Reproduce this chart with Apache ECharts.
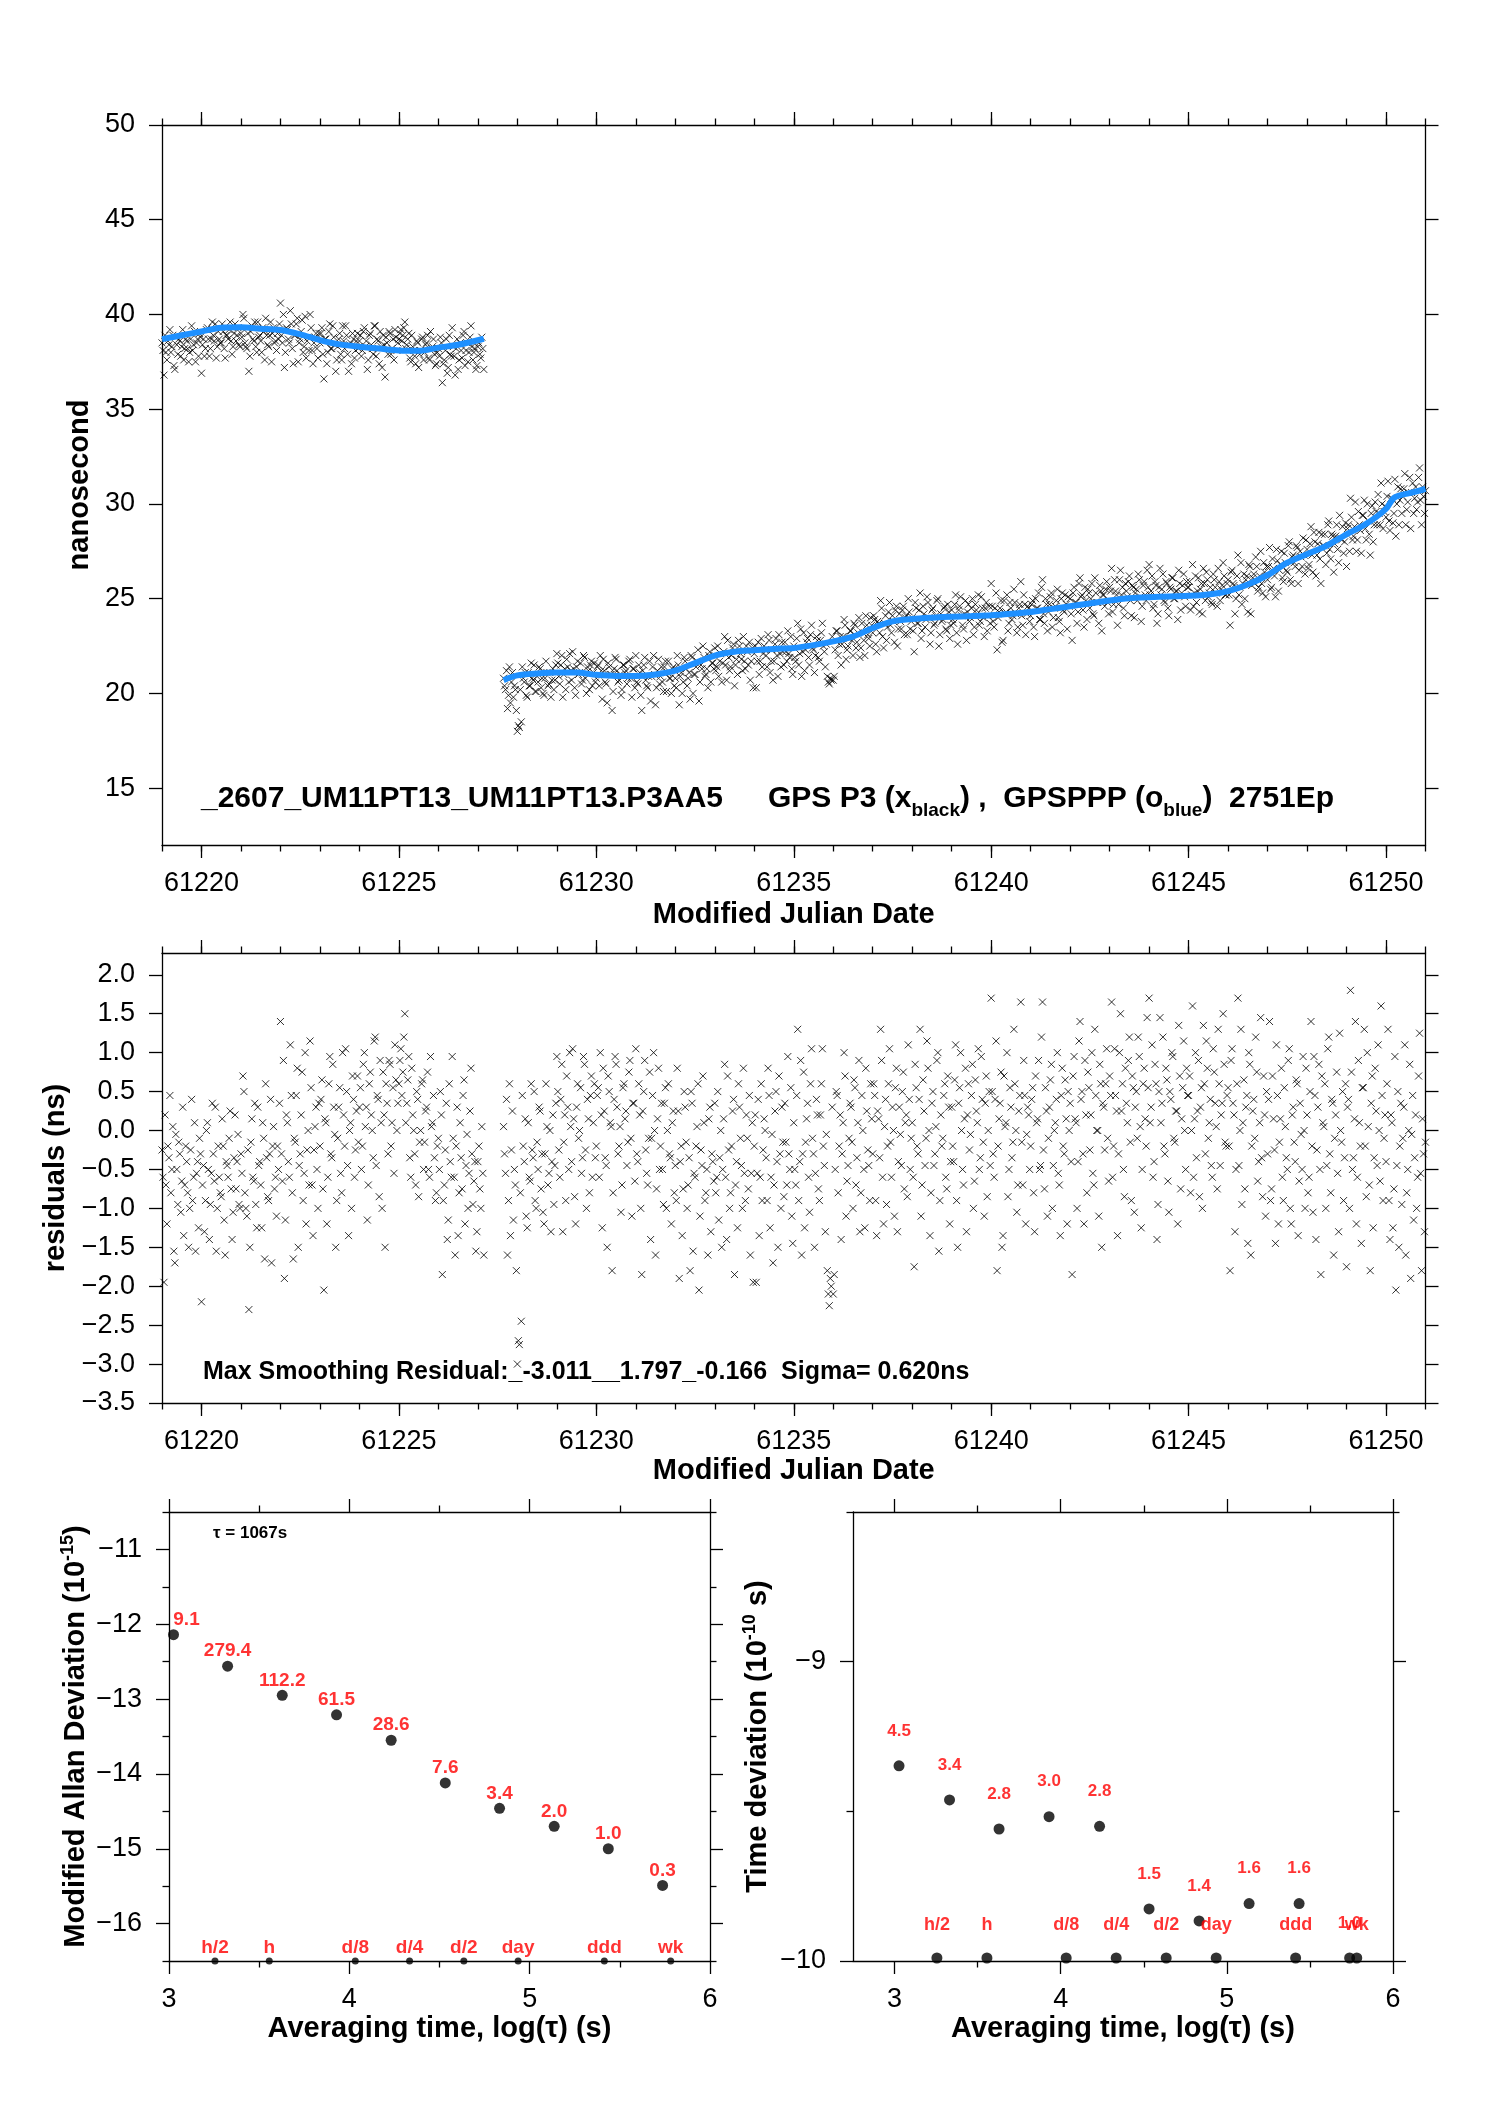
<!DOCTYPE html>
<html>
<head>
<meta charset="utf-8">
<title>GPS P3 / GPSPPP clock comparison</title>
<script src="https://cdn.jsdelivr.net/npm/echarts@6.0.0/dist/echarts.min.js"></script>
<style>
html, body { margin: 0; padding: 0; background: #fff; }
#main { width: 1488px; height: 2105px; }
</style>
</head>
<body>
<div id="main"></div>
<script>
// sample grid (MJD): two data segments, each read as two interleaved epoch sets, 0.05 d apart
var seg1Start = 61219.00, seg1bStart = 61219.025, seg2Start = 61227.65, seg2bStart = 61227.675, sampleStep = 0.05;

// GPS P3 values, black x (ns)
var p3Seg1 = [
  38.5,36.8,38.0,38.6,39.2,38.3,37.3,38.8,37.9,38.6,38.3,37.6,38.7,38.2,38.0,39.4,38.4,37.5,38.7,39.0,
  36.9,38.7,38.2,39.3,37.8,38.7,38.9,39.5,38.3,38.7,38.5,39.1,37.7,38.9,39.2,38.6,38.3,39.5,38.9,38.4,
  39.0,40.0,38.5,38.2,37.0,39.1,38.7,39.6,38.0,38.8,38.6,39.3,37.6,38.9,38.3,39.6,39.0,38.5,38.1,38.7,
  40.6,38.5,37.2,39.3,38.7,40.2,38.2,38.9,39.5,37.5,38.7,39.7,38.3,37.7,38.8,40.0,38.1,38.5,39.0,37.7,
  38.5,39.3,36.6,38.7,38.0,39.5,38.2,38.8,37.0,38.3,39.0,37.6,38.6,39.4,37.9,38.4,37.4,38.7,38.1,39.0,
  38.6,37.8,39.1,38.3,37.1,38.9,38.4,37.9,39.4,38.7,37.4,38.3,38.9,36.7,38.5,39.1,37.9,38.7,39.2,38.1,
  38.7,39.2,38.9,39.6,38.4,39.0,37.5,38.3,37.8,38.6,37.2,38.1,38.8,38.0,38.5,37.7,39.1,38.3,37.9,37.4,
  38.2,38.8,36.4,37.6,38.7,37.2,37.9,39.3,37.8,38.2,37.1,38.5,37.7,39.1,38.1,37.5,38.8,38.3,38.0,37.1,
  38.3,37.9,38.8,37.1
];
var p3Seg1b = [
  38.1,38.9,37.6,38.4,38.0,38.9,37.1,38.4,38.7,37.8,39.2,38.2,38.6,37.5,38.7,38.1,39.1,38.5,37.8,38.8,
  38.4,37.8,39.2,38.7,38.2,39.6,38.6,37.7,39.1,38.5,39.5,38.2,38.9,38.7,39.6,37.9,39.0,38.6,39.3,38.3,
  38.8,39.8,38.3,39.0,37.8,39.4,38.6,38.3,39.6,38.9,38.0,39.1,39.8,38.4,38.9,37.5,39.3,38.6,39.0,39.5,
  38.9,40.0,38.0,39.2,38.5,39.5,37.4,38.9,39.8,38.5,39.1,38.0,39.9,38.6,38.1,39.3,37.4,38.8,38.2,39.0,
  39.0,37.9,38.7,37.4,39.1,38.2,39.4,38.4,37.6,38.7,37.9,39.4,38.2,38.9,37.0,38.5,39.0,37.7,38.6,38.2,
  38.9,38.1,39.3,38.6,37.6,39.0,38.2,39.4,37.8,38.6,39.1,37.2,38.4,38.8,37.9,39.0,38.2,37.6,38.8,38.5,
  39.0,38.6,39.3,38.2,38.7,37.7,38.9,38.1,37.4,38.5,37.9,38.7,37.6,38.4,38.9,37.6,38.2,38.7,37.3,38.0,
  37.8,38.5,37.4,38.1,36.9,38.9,37.8,38.3,36.8,38.7,37.6,38.1,38.9,37.3,38.5,38.0,39.4,37.6,38.2,37.3,
  38.5,37.7,38.2
];
var p3Seg2 = [
  20.8,20.2,19.2,21.4,20.6,19.8,20.2,
  18.0,18.2,18.5,20.8,21.1,19.8,20.4,21.6,20.7,20.1,20.9,21.4,20.3,20.0,20.8,21.1,20.5,19.8,21.3,20.7,
  22.1,20.9,21.5,19.8,21.3,21.8,20.6,21.2,22.2,20.3,21.4,21.0,21.6,20.7,21.9,20.0,21.2,21.5,20.4,21.6,
  20.8,21.5,22.0,19.7,21.2,20.5,21.6,21.0,19.1,21.3,21.8,20.6,21.0,20.2,21.5,21.2,20.8,21.8,19.8,21.3,
  22.0,20.5,21.1,19.1,21.5,20.7,20.3,21.7,20.9,22.0,19.4,21.2,20.5,21.4,20.1,21.7,21.1,20.8,20.0,21.4,
  20.8,22.0,19.4,21.1,20.6,21.7,20.4,21.1,22.0,20.0,21.0,21.7,19.6,21.5,22.5,20.9,21.3,22.0,20.6,21.6,
  22.4,21.4,20.9,22.1,21.6,23.0,20.7,21.9,21.4,22.4,20.4,21.8,22.8,22.1,21.2,21.7,22.5,21.5,20.7,22.4,
  22.1,20.3,22.7,21.7,21.4,22.5,22.0,23.1,21.1,22.3,21.7,22.9,20.9,22.1,22.7,21.5,22.2,23.3,21.9,21.3,
  22.5,21.7,23.7,22.1,20.9,23.2,22.3,22.9,21.5,23.6,22.3,22.0,22.8,21.7,23.2,22.5,21.4,20.9,20.5,20.7,
  20.7,22.3,23.3,22.6,21.5,23.0,23.6,22.3,22.9,23.3,22.0,23.6,22.7,24.0,22.4,23.2,22.0,23.6,22.9,24.0,
  23.2,23.9,22.2,23.7,24.9,23.0,23.7,22.8,24.3,23.6,24.1,22.7,24.6,23.4,23.8,24.4,23.1,24.1,25.0,23.4,
  24.0,22.2,24.5,23.7,25.3,23.3,24.2,23.9,24.8,22.6,24.4,23.6,24.1,25.0,23.1,23.8,24.5,23.4,24.7,22.9,
  24.4,23.7,25.2,22.6,24.6,24.1,23.4,24.9,24.3,23.8,24.5,23.1,24.7,24.2,23.6,25.1,24.0,24.5,23.3,24.6,
  25.8,23.8,24.5,22.3,24.3,24.9,22.8,24.2,25.2,23.7,24.5,24.1,24.8,23.2,24.5,25.9,23.6,24.7,24.2,24.5,
  24.1,24.9,23.0,24.5,25.3,23.9,26.0,23.7,24.7,24.3,25.1,23.5,24.5,24.9,24.0,23.2,25.3,24.3,24.7,25.1,
  25.0,22.8,25.6,24.8,24.3,26.1,25.2,23.5,24.9,25.5,24.5,25.8,24.1,25.3,24.8,25.7,23.3,25.2,25.5,24.8,
  25.6,26.6,24.7,25.4,23.6,26.0,25.2,24.5,25.8,25.1,26.2,24.1,25.6,25.3,24.9,26.0,23.8,25.7,25.2,26.5,
  26.8,25.4,24.5,25.9,23.7,25.6,25.2,26.3,24.8,25.8,24.1,25.5,26.1,25.0,25.4,26.5,24.4,25.7,25.1,25.9,
  25.6,24.4,26.8,25.3,24.8,26.1,25.5,24.2,25.8,26.4,25.1,25.6,24.7,26.0,25.3,26.6,24.9,25.7,26.2,25.2,
  26.0,23.6,26.5,25.7,25.0,27.3,25.6,24.7,26.3,26.0,24.3,26.7,25.7,26.3,27.2,25.4,26.2,25.8,26.9,25.1,
  26.0,27.7,25.6,26.6,25.1,27.0,26.5,27.5,25.9,26.9,26.4,28.0,25.8,27.3,26.7,27.7,26.5,27.2,28.2,26.3,
  27.6,26.8,28.8,26.4,28.0,27.3,28.5,25.8,27.8,28.4,27.4,29.1,27.1,28.3,27.9,28.9,26.9,28.2,28.8,28.0,
  26.7,28.9,30.3,28.1,28.8,27.5,29.6,28.6,29.4,30.2,28.1,29.1,27.3,29.9,28.9,29.6,30.5,28.9,30.0,29.6,
  29.3,31.2,28.6,30.3,29.5,28.3,30.9,30.2,29.5,30.8,28.9,30.1,31.4,30.6,29.5,30.9,30.1,31.9,28.9,30.4,
  30.7
];
var p3Seg2b = [
  20.4,21.2,19.9,19.5,21.1,20.4,19.1,
  18.3,20.2,21.4,20.6,19.9,21.1,20.4,20.8,21.5,20.1,20.6,21.3,20.8,19.9,21.7,20.4,21.1,20.7,20.2,21.5,
  21.6,20.5,22.0,21.0,20.2,21.4,22.1,20.7,21.3,19.9,21.7,21.1,20.5,22.0,20.8,21.4,20.2,21.7,21.1,20.6,
  21.4,20.4,21.2,21.8,20.6,19.5,21.4,21.0,20.1,21.9,21.2,20.7,19.9,21.5,21.1,20.5,21.7,20.8,21.3,20.3,
  20.6,21.5,19.9,21.2,21.9,20.4,20.9,19.6,21.4,21.0,20.3,21.8,20.9,20.6,21.4,20.1,21.7,20.8,21.3,20.4,
  20.3,21.5,20.9,20.0,21.9,21.3,20.8,19.7,21.9,21.0,21.4,22.3,20.6,21.3,21.9,21.0,20.3,22.2,21.6,21.3,
  21.2,22.5,21.7,20.6,22.2,21.5,22.8,21.2,22.0,22.6,21.5,21.0,22.5,21.8,23.0,21.3,22.2,22.7,21.7,20.3,
  22.5,21.7,21.0,22.9,22.1,22.3,21.4,22.8,21.7,20.7,22.6,22.0,23.1,21.4,22.2,22.7,21.7,22.1,23.0,21.0,
  21.9,22.9,21.5,23.4,22.2,21.2,22.7,21.9,23.1,22.4,21.1,23.0,21.9,22.8,23.7,22.2,22.6,20.6,20.8,23.0,
  20.9,23.3,22.0,23.0,22.6,23.9,21.8,22.5,23.3,22.8,23.7,22.4,23.2,21.9,23.7,22.8,24.1,23.1,22.5,23.6,
  24.1,22.6,23.8,23.2,24.5,22.4,24.1,23.5,24.8,23.2,23.8,24.4,22.5,24.2,23.4,24.6,24.0,23.1,24.3,23.8,
  23.3,24.8,23.7,24.4,22.9,24.6,23.5,25.1,24.0,23.2,24.5,23.7,24.9,22.5,24.2,23.9,24.6,23.3,24.3,23.6,
  23.9,24.7,23.2,24.4,25.1,23.6,24.2,22.8,24.7,24.0,25.0,23.5,24.4,25.2,23.8,24.5,23.0,24.8,24.1,23.7,
  24.6,23.5,25.3,24.0,24.5,22.7,24.9,24.3,23.3,24.8,23.9,25.5,24.2,23.5,24.7,24.1,25.2,23.1,24.6,23.8,
  24.7,23.5,25.0,24.5,23.9,25.6,24.2,25.0,23.3,24.7,25.3,24.0,24.6,25.5,23.8,25.0,24.4,25.2,23.4,24.6,
  24.2,25.3,24.8,23.7,25.8,25.1,24.4,25.6,23.9,25.3,25.0,24.2,26.1,24.8,23.7,25.4,25.2,24.6,25.9,24.2,
  25.4,24.3,26.0,25.2,24.7,26.5,25.6,24.1,25.4,25.9,24.9,25.7,24.0,25.5,26.3,25.1,24.6,25.9,24.9,25.6,
  25.2,26.2,24.7,25.7,24.2,26.6,25.5,24.9,25.9,24.5,25.6,26.1,25.0,25.4,23.9,25.8,25.3,26.3,24.6,25.6,
  25.9,25.2,24.6,26.2,25.4,24.3,25.8,26.6,24.9,26.0,25.3,24.8,26.3,25.6,24.6,25.9,25.5,26.9,25.2,25.8,
  25.2,26.4,25.8,24.2,26.2,25.2,26.9,25.8,25.0,26.2,26.8,24.2,26.1,25.8,26.7,25.6,27.5,25.3,26.4,26.7,
  26.7,25.5,27.1,26.2,27.6,25.4,26.8,26.1,27.4,26.5,27.8,26.0,27.2,26.9,27.8,25.8,27.5,26.7,27.3,28.1,
  26.6,27.9,27.3,28.5,26.2,27.9,27.1,28.4,27.8,26.8,28.9,27.6,28.4,26.4,28.3,27.6,29.4,28.1,27.4,29.0,
  28.7,27.5,29.3,28.3,30.1,28.1,28.9,27.4,29.4,28.7,30.0,28.4,29.5,28.0,30.1,28.9,29.5,31.1,28.7,29.9,
  30.4,29.1,30.3,29.0,31.3,30.0,28.9,30.8,30.4,31.6,29.7,30.6,28.7,31.1,30.3,29.7,31.4,30.2,30.9,29.5
];

// GPSPPP curve, blue [MJD, ns]
var pppSeg1 = [
  [61219.0,38.70],[61219.5,38.90],[61220.0,39.10],[61220.5,39.30],[61221.0,39.32],[61221.5,39.25],
  [61222.0,39.18],[61222.5,38.95],[61223.0,38.65],[61223.5,38.42],[61224.0,38.30],[61224.5,38.20],
  [61225.0,38.10],[61225.5,38.08],[61226.0,38.25],[61226.5,38.40],[61227.15,38.72]
];
var pppSeg2 = [
  [61227.65,20.70],[61228.0,20.95],[61228.5,21.05],[61229.0,21.10],[61229.5,21.10],[61230.0,20.98],
  [61230.5,20.92],[61231.0,20.92],[61231.5,21.00],[61232.0,21.20],[61232.5,21.60],[61233.0,22.00],
  [61233.5,22.20],[61234.0,22.28],[61234.5,22.35],[61235.0,22.40],[61235.5,22.55],[61236.0,22.75],
  [61236.5,23.00],[61237.0,23.45],[61237.5,23.80],[61238.0,23.93],[61238.5,24.00],[61239.0,24.05],
  [61239.5,24.08],[61240.0,24.12],[61240.5,24.20],[61241.0,24.30],[61241.5,24.45],[61242.0,24.60],
  [61242.5,24.75],[61243.0,24.90],[61243.5,25.02],[61244.0,25.08],[61244.5,25.12],[61245.0,25.15],
  [61245.5,25.22],[61246.0,25.40],[61246.5,25.75],[61247.0,26.25],[61247.5,26.90],[61248.0,27.35],
  [61248.5,27.80],[61249.0,28.40],[61249.5,28.95],[61250.0,29.74],[61250.22,30.35],[61250.7,30.62],
  [61251.0,30.80]
];

// smoothing residuals (ns)
var resSeg1 = [
  -0.25,-1.95,-0.7,-0.2,0.45,-0.5,-1.55,-0.05,-0.95,-0.3,-0.65,-1.35,-0.2,-0.8,-1.0,0.4,-0.6,-1.55,-0.4,-0.1,
  -2.2,-0.45,-0.9,0.1,-1.4,-0.55,-0.3,0.3,-1.0,-0.6,-0.85,-0.2,-1.6,-0.45,-0.1,-0.75,-1.05,0.2,-0.4,-0.95,
  -0.3,0.7,-0.8,-1.1,-2.3,-0.15,-0.6,0.35,-1.25,-0.45,-0.7,0.1,-1.65,-0.35,-0.9,0.4,-0.2,-0.75,-1.1,-0.5,
  1.4,-0.65,-1.9,0.2,-0.4,1.1,-0.8,-0.1,0.45,-1.5,-0.3,0.75,-0.55,-1.2,0.0,1.15,-0.7,-0.25,0.3,-1.0,
  -0.2,0.65,-2.05,0.1,-0.6,0.95,-0.35,0.3,-1.5,-0.1,0.55,-0.8,0.2,1.05,-0.45,0.0,-1.0,0.4,-0.25,0.7,
  0.3,-0.5,0.85,0.05,-1.15,0.6,0.2,-0.35,1.2,0.45,-0.85,0.1,0.75,-1.5,0.35,0.9,-0.2,0.55,1.1,0.0,
  0.6,1.05,0.75,1.5,0.35,0.95,-0.6,0.2,-0.3,0.5,-0.85,0.0,0.65,-0.15,0.3,-0.5,0.95,0.1,-0.35,-0.8,
  -0.1,0.5,-1.85,-0.7,0.35,-1.15,-0.4,0.95,-0.6,-0.2,-1.35,0.1,-0.75,0.65,-0.45,-1.0,0.25,-0.3,-0.65,-1.55,
  -0.4,-0.75,0.05,-1.6
];
var resSeg1b = [
  -0.6,0.2,-1.2,-0.35,-0.8,0.05,-1.7,-0.5,-0.15,-1.05,0.3,-0.7,-0.4,-1.5,-0.25,-0.9,0.1,-0.55,-1.25,-0.3,
  -0.7,-1.3,0.0,-0.5,-0.95,0.35,-0.65,-1.55,-0.2,-0.8,0.15,-1.15,-0.4,-0.6,0.25,-1.4,-0.35,-0.75,-0.05,-1.0,
  -0.55,0.5,-1.0,-0.25,-1.5,0.15,-0.65,-0.95,0.3,-0.4,-1.25,-0.1,0.6,-0.85,-0.3,-1.7,0.05,-0.6,-0.2,0.35,
  -0.3,0.9,-1.15,0.1,-0.6,0.45,-1.65,-0.15,0.8,-0.45,0.2,-0.9,1.0,-0.25,-0.7,0.55,-1.35,0.05,-0.5,0.35,
  0.4,-0.75,0.15,-1.2,0.6,-0.3,0.85,-0.05,-0.9,0.3,-0.55,1.0,-0.2,0.5,-1.35,0.1,0.7,-0.6,0.25,-0.15,
  0.55,-0.2,1.0,0.3,-0.7,0.75,0.0,1.15,-0.45,0.4,0.9,-1.0,0.2,0.6,-0.3,0.85,0.1,-0.55,0.65,0.35,
  0.9,0.45,1.2,0.1,0.65,-0.35,0.8,0.0,-0.7,0.4,-0.15,0.6,-0.5,0.25,0.75,-0.6,0.05,0.45,-0.9,-0.2,
  -0.5,0.2,-0.9,-0.25,-1.4,0.6,-0.6,-0.1,-1.6,0.3,-0.8,-0.35,0.45,-1.2,-0.05,-0.55,0.8,-0.95,-0.4,-1.3,
  -0.2,-1.0,-0.55
];
var resSeg2 = [
  0.05,-0.55,-1.6,0.6,-0.25,-1.15,-0.7,
  -3.0,-2.75,-2.45,-0.2,0.15,-1.25,-0.6,0.6,-0.35,-0.9,-0.15,0.3,-0.75,-1.05,-0.3,0.05,-0.55,-1.3,0.2,-0.45,
  0.95,-0.25,0.4,-1.3,0.2,0.7,-0.5,0.05,1.05,-0.85,0.3,-0.1,0.55,-0.35,0.85,-1.0,0.15,0.45,-0.6,0.6,
  -0.2,0.55,1.0,-1.25,0.25,-0.45,0.7,0.1,-1.8,0.4,0.85,-0.3,0.05,-0.7,0.6,0.25,-0.15,0.9,-1.1,0.35,
  1.05,-0.4,0.2,-1.85,0.5,-0.25,-0.7,0.75,-0.1,1.0,-1.6,0.15,-0.5,0.35,-0.95,0.55,0.0,-0.3,-1.2,0.25,
  -0.45,0.8,-1.9,-0.2,-0.75,0.3,-1.0,-0.35,0.5,-1.55,-0.6,0.05,-2.05,-0.25,0.7,-0.9,-0.5,0.15,-1.3,-0.4,
  0.35,-0.6,-1.15,0.0,-0.5,0.85,-1.4,-0.25,-0.8,0.25,-1.85,-0.4,0.6,-0.1,-1.0,-0.55,0.2,-0.75,-1.6,0.1,
  -0.2,-1.95,0.4,-0.6,-0.9,0.15,-0.35,0.8,-1.25,-0.05,-0.7,0.5,-1.5,-0.3,0.3,-0.85,-0.15,0.95,-0.5,-1.1,
  0.1,-0.7,1.3,-0.4,-1.6,0.75,-0.15,0.35,-1.05,1.05,-0.3,-0.55,0.2,-0.9,0.6,-0.2,-1.3,-1.8,-2.25,-2.0,
  -2.1,-0.5,0.45,-0.2,-1.4,0.1,0.7,-0.65,-0.1,0.3,-1.0,0.55,-0.35,0.9,-0.8,0.0,-1.25,0.25,-0.45,0.6,
  -0.3,0.45,-1.35,0.15,1.3,-0.6,0.05,-0.95,0.6,-0.15,0.3,-1.1,0.8,-0.4,-0.05,0.5,-0.75,0.2,1.1,-0.5,
  0.1,-1.75,0.55,-0.3,1.3,-0.7,0.25,-0.1,0.8,-1.35,0.35,-0.45,0.05,1.0,-0.9,-0.2,0.45,-0.6,0.7,-1.2,
  0.3,-0.4,1.1,-1.5,0.55,0.0,-0.7,0.8,0.2,-0.25,0.45,-1.0,0.65,0.1,-0.5,0.95,-0.15,0.35,-0.85,0.5,
  1.7,-0.3,0.4,-1.8,0.15,0.75,-1.35,0.05,1.0,-0.5,0.3,-0.15,0.6,-1.05,0.25,1.65,-0.7,0.45,-0.05,0.2,
  -0.2,0.55,-1.3,0.1,0.9,-0.45,1.65,-0.75,0.25,-0.1,0.65,-1.0,0.0,0.4,-0.55,-1.35,0.8,-0.3,0.15,0.5,
  0.35,-1.85,0.95,0.1,-0.4,1.4,0.5,-1.2,0.2,0.75,-0.25,1.0,-0.7,0.45,0.0,0.85,-1.5,0.3,0.6,-0.1,
  0.7,1.65,-0.2,0.45,-1.35,1.0,0.25,-0.5,0.8,0.1,1.2,-0.9,0.55,0.3,-0.1,0.95,-1.25,0.6,0.15,1.45,
  1.7,0.3,-0.6,0.85,-1.4,0.5,0.1,1.2,-0.3,0.65,-1.05,0.4,0.95,-0.15,0.25,1.35,-0.75,0.55,0.0,0.8,
  0.45,-0.8,1.6,0.15,-0.35,0.9,0.3,-1.0,0.6,1.15,-0.1,0.4,-0.6,0.75,0.05,1.3,-0.45,0.35,0.85,-0.2,
  0.55,-1.8,1.05,0.2,-0.5,1.7,0.0,-0.95,0.65,0.3,-1.45,0.85,-0.2,0.4,1.2,-0.65,0.1,-0.35,0.7,-1.1,
  -0.3,1.4,-0.75,0.15,-1.45,0.45,-0.15,0.8,-0.9,0.05,-0.5,1.05,-1.2,0.3,-0.4,0.6,-0.65,-0.05,0.95,-1.0,
  0.2,-0.6,1.4,-1.05,0.45,-0.25,0.85,-1.85,0.1,0.6,-0.45,1.2,-0.8,0.35,-0.1,0.75,-1.3,0.0,0.5,-0.35,
  -1.75,0.4,1.8,-0.5,0.15,-1.2,0.9,-0.2,0.55,1.3,-0.85,0.05,-1.8,0.7,-0.35,0.25,1.1,-0.65,0.45,-0.1,
  -0.4,1.3,-1.4,0.1,-0.75,-2.05,0.5,-0.2,-0.95,0.3,-1.6,-0.5,0.85,-0.05,-1.15,0.2,-0.6,1.25,-1.8,-0.3,
  -0.15
];
var resSeg2b = [
  -0.3,0.4,-0.9,-1.35,0.25,-0.5,-1.8,
  -2.7,-0.8,0.45,-0.4,-1.1,0.1,-0.65,-0.25,0.5,-1.0,-0.5,0.25,-0.3,-1.2,0.6,-0.7,0.0,-0.4,-0.95,0.35,
  0.5,-0.6,0.85,-0.15,-0.9,0.3,1.0,-0.4,0.15,-1.2,0.6,0.0,-0.55,0.95,-0.25,0.4,-0.8,0.7,0.1,-0.35,
  0.45,-0.6,0.2,0.8,-0.35,-1.5,0.5,0.05,-0.8,0.95,0.3,-0.2,-1.05,0.55,0.15,-0.45,0.75,-0.1,0.35,-0.65,
  -0.3,0.6,-1.0,0.25,0.9,-0.55,-0.1,-1.4,0.45,0.0,-0.75,0.8,-0.2,-0.5,0.35,-1.0,0.6,-0.35,0.1,-0.8,
  -0.9,0.25,-0.4,-1.35,0.5,-0.15,-0.7,-1.8,0.35,-0.55,-0.2,0.6,-1.1,-0.45,0.1,-0.8,-1.6,0.3,-0.3,-0.65,
  -0.8,0.5,-0.35,-1.5,0.15,-0.6,0.7,-1.0,-0.2,0.4,-0.7,-1.25,0.3,-0.45,0.8,-0.9,-0.1,0.45,-0.55,-1.95,
  0.2,-0.55,-1.35,0.6,-0.25,0.0,-0.9,0.45,-0.6,-1.7,0.25,-0.4,0.7,-1.0,-0.15,0.35,-0.7,-0.3,0.55,-1.45,
  -0.5,0.45,-0.9,0.9,-0.3,-1.25,0.15,-0.6,0.6,-0.1,-1.5,0.4,-0.75,0.2,1.05,-0.45,-0.05,-2.1,-1.9,0.3,
  -1.85,0.5,-0.8,0.2,-0.3,1.0,-1.1,-0.45,0.35,-0.15,0.65,-0.7,0.1,-1.3,0.45,-0.5,0.8,-0.25,-0.9,0.15,
  0.6,-0.9,0.25,-0.35,0.9,-1.2,0.4,-0.2,1.05,-0.6,0.0,0.55,-1.3,0.3,-0.45,0.75,0.1,-0.85,0.4,-0.1,
  -0.6,0.85,-0.2,0.4,-1.1,0.65,-0.45,1.15,0.0,-0.8,0.5,-0.3,0.9,-1.55,0.2,-0.1,0.6,-0.75,0.3,-0.4,
  -0.2,0.65,-0.9,0.35,1.0,-0.5,0.15,-1.3,0.6,-0.05,0.85,-0.65,0.25,1.05,-0.35,0.4,-1.1,0.7,0.0,-0.45,
  0.5,-0.6,1.15,-0.2,0.35,-1.5,0.7,0.1,-0.85,0.55,-0.35,1.3,0.0,-0.7,0.45,-0.15,0.9,-1.2,0.3,-0.5,
  0.4,-0.8,0.7,0.15,-0.5,1.2,-0.25,0.55,-1.1,0.3,0.85,-0.45,0.1,1.0,-0.7,0.45,-0.2,0.65,-1.2,0.0,
  -0.4,0.7,0.15,-1.0,1.15,0.4,-0.3,0.9,-0.8,0.55,0.2,-0.55,1.3,0.0,-1.1,0.6,0.35,-0.25,1.05,-0.65,
  0.45,-0.6,1.05,0.25,-0.3,1.5,0.6,-0.85,0.35,0.9,-0.15,0.7,-1.05,0.5,1.2,0.05,-0.5,0.8,-0.2,0.55,
  0.1,1.1,-0.4,0.6,-0.95,1.45,0.35,-0.2,0.8,-0.65,0.5,1.0,-0.1,0.25,-1.2,0.7,0.15,1.15,-0.5,0.45,
  0.7,0.0,-0.6,1.0,0.25,-0.85,0.55,1.35,-0.3,0.8,0.1,-0.45,1.05,0.35,-0.75,0.6,0.2,1.5,-0.15,0.45,
  -0.2,0.9,0.35,-1.3,0.6,-0.45,1.3,0.1,-0.75,0.45,1.0,-1.6,0.25,-0.1,0.75,-0.4,1.45,-0.85,0.2,0.5,
  0.4,-0.9,0.7,-0.25,1.1,-1.2,0.15,-0.6,0.55,-0.35,0.9,-1.0,0.2,-0.15,0.65,-1.35,0.35,-0.5,0.0,0.8,
  -0.8,0.5,-0.2,0.95,-1.4,0.3,-0.5,0.7,0.05,-1.0,1.05,-0.3,0.4,-1.6,0.2,-0.55,1.25,-0.15,-0.9,0.6,
  0.3,-1.0,0.75,-0.35,1.4,-0.6,0.1,-1.45,0.55,-0.2,1.0,-0.7,0.35,-1.25,0.8,-0.45,0.0,1.6,-0.9,0.2,
  0.6,-0.9,0.2,-1.25,0.95,-0.45,-1.5,0.35,-0.1,1.1,-0.8,0.0,-1.9,0.45,-0.35,-1.0,0.7,-0.55,0.15,-1.3
];

// stability panels: log10(tau), log10 deviation, red annotations
var adevTau = [3.025, 3.325, 3.628, 3.929, 4.232, 4.532, 4.833, 5.136, 5.436, 5.737];
var adevVal = [-12.14, -12.56, -12.95, -13.21, -13.55, -14.12, -14.46, -14.70, -15.00, -15.49];
var adevTxt = ['9.1', '279.4', '112.2', '61.5', '28.6', '7.6', '3.4', '2.0', '1.0', '0.3'];
var tdevTau = [3.027, 3.331, 3.629, 3.930, 4.234, 4.532, 4.833, 5.134, 5.435, 5.739];
var tdevVal = [-9.348, -9.462, -9.559, -9.518, -9.550, -9.826, -9.866, -9.808, -9.808, -9.99];
var tdevTxt = ['4.5', '3.4', '2.8', '3.0', '2.8', '1.5', '1.4', '1.6', '1.6', '1.0'];
var markTau = [3.255, 3.556, 4.033, 4.334, 4.635, 4.936, 5.414, 5.782];
var markTxt = ['h/2', 'h', 'd/8', 'd/4', 'd/2', 'day', 'ddd', 'wk'];

// tick positions
var mjdMajor = [61220, 61225, 61230, 61235, 61240, 61245, 61250];
var mjdMinor = [61219,61220,61221,61222,61223,61224,61225,61226,61227,61228,61229,61230,61231,
  61232,61233,61234,61235,61236,61237,61238,61239,61240,61241,61242,61243,61244,61245,61246,
  61247,61248,61249,61250,61251];
var nsTicks = [15, 20, 25, 30, 35, 40, 45, 50];
var resTicks = [-3.5, -3, -2.5, -2, -1.5, -1, -0.5, 0, 0.5, 1, 1.5, 2];
var tauMajor = [3, 4, 5, 6];
var tauMinor = [3.5, 4.5, 5.5];
var adevMajor = [-16, -15, -14, -13, -12, -11];
var adevMinor = [-16.5, -15.5, -14.5, -13.5, -12.5, -11.5, -10.5];
var tdevMajor = [-10, -9];
var tdevMinor = [-9.5, -8.5];

var FONT = '"Liberation Sans", Arial, Helvetica, sans-serif';
var LINE = { color: '#000', width: 1.3 };
var XMARK = 'path://M0 0L10 10M10 0L0 10';

function tickText(v, dec) {
  var s = dec ? v.toFixed(dec) : String(Math.round(v));
  return s.charAt(0) === '-' ? '\u2212' + s.slice(1) : s;
}
function toPairs(start, values) {
  return values.map(function (v, i) { return [+(start + i * sampleStep).toFixed(3), v]; });
}

var xAxes = [], yAxes = [];
function nameStyle(rich) {
  var s = { fontSize: 29, fontWeight: 'bold', fontFamily: FONT, color: '#000' };
  if (rich) s.rich = rich;
  return s;
}
function addX(grid, min, max, major, minor, labels, name, nameGap, dec) {
  var first = xAxes.length;
  ['bottom', 'top'].forEach(function (pos) {
    var main = pos === 'bottom';
    xAxes.push({
      type: 'value', gridIndex: grid, position: pos, min: min, max: max,
      splitLine: { show: false },
      axisLine: { show: true, onZero: false, lineStyle: LINE },
      axisTick: { show: true, customValues: major, length: 13, lineStyle: LINE },
      axisLabel: main ? {
        show: true, customValues: labels, margin: 25, fontSize: 27, fontFamily: FONT, color: '#000',
        formatter: function (v) { return tickText(v, dec); }
      } : { show: false },
      name: main ? name : '', nameLocation: 'middle', nameGap: nameGap, nameTextStyle: nameStyle()
    });
    if (minor.length) {
      xAxes.push({
        type: 'value', gridIndex: grid, position: pos, min: min, max: max,
        splitLine: { show: false }, axisLine: { show: false, onZero: false },
        axisTick: { show: true, customValues: minor, length: 6.5, lineStyle: LINE },
        axisLabel: { show: false }
      });
    }
  });
  return first;
}
function addY(grid, min, max, major, minor, labels, name, nameGap, dec, rich) {
  var first = yAxes.length;
  ['left', 'right'].forEach(function (pos) {
    var main = pos === 'left';
    yAxes.push({
      type: 'value', gridIndex: grid, position: pos, min: min, max: max,
      splitLine: { show: false },
      axisLine: { show: true, onZero: false, lineStyle: LINE },
      axisTick: { show: true, customValues: major, length: 13, lineStyle: LINE },
      axisLabel: main ? {
        show: true, customValues: labels, margin: 27, fontSize: 27, fontFamily: FONT, color: '#000',
        formatter: function (v) { return tickText(v, dec); }
      } : { show: false },
      name: main ? name : '', nameLocation: 'middle', nameGap: nameGap, nameTextStyle: nameStyle(rich)
    });
    if (minor.length) {
      yAxes.push({
        type: 'value', gridIndex: grid, position: pos, min: min, max: max,
        splitLine: { show: false }, axisLine: { show: false, onZero: false },
        axisTick: { show: true, customValues: minor, length: 6.5, lineStyle: LINE },
        axisLabel: { show: false }
      });
    }
  });
  return first;
}

var supRich = { sup: { fontSize: 18, fontWeight: 'bold', fontFamily: FONT, color: '#000', verticalAlign: 'top', padding: [0, 0, 16, 0] } };

var xTop = addX(0, 61219, 61251, mjdMajor, mjdMinor, mjdMajor, 'Modified Julian Date', 55, 0);
var yTop = addY(0, 12, 50, nsTicks, [], nsTicks, 'nanosecond', 57, 0);
var xRes = addX(1, 61219, 61251, mjdMajor, mjdMinor, mjdMajor, 'Modified Julian Date', 53, 0);
var yRes = addY(1, -3.5, 2.28, resTicks, [], resTicks, 'residuals (ns)', 81, 1);
var xAdev = addX(2, 3, 6, tauMajor, tauMinor, tauMajor, 'Averaging time, log(\u03c4) (s)', 53, 0);
var yAdev = addY(2, -16.5, -10.5, adevMajor, adevMinor, adevMajor, 'Modified Allan Deviation (10{sup|-15})', 76, 0, supRich);
var xTdev = addX(3, 2.75, 6, tauMajor, tauMinor, tauMajor, 'Averaging time, log(\u03c4) (s)', 53, 0);
var yTdev = addY(3, -10, -8.5, tdevMajor, tdevMinor, tdevMajor, 'Time deviation (10{sup|-10} s)', 78, 0, supRich);

var xStyle = { color: 'rgba(0,0,0,0)', borderColor: '#000', borderWidth: 1 };
function xScatter(xi, yi, data) {
  return { type: 'scatter', xAxisIndex: xi, yAxisIndex: yi, data: data, symbol: XMARK, symbolSize: 7,
    itemStyle: xStyle, silent: true, z: 2 };
}
function blueLine(data) {
  return { type: 'line', xAxisIndex: xTop, yAxisIndex: yTop, data: data, smooth: 0.3, showSymbol: false,
    lineStyle: { color: '#1e90ff', width: 6 }, silent: true, z: 3 };
}
function redLabel(size, dist) {
  return { show: true, position: 'top', distance: dist, formatter: '{b}', color: '#ff0000',
    fontSize: size, fontWeight: 'bold', fontFamily: FONT };
}

var adevData = adevTau.map(function (t, i) {
  var d = { name: adevTxt[i], value: [t, adevVal[i]] };
  if (i === 0) d.label = { offset: [13, 0] };
  return d;
});
var tdevData = tdevTau.map(function (t, i) { return { name: tdevTxt[i], value: [t, tdevVal[i]] }; });
var adevMarks = markTau.map(function (t, i) { return { name: markTxt[i], value: [t, -16.5] }; });
var tdevMarks = markTau.map(function (t, i) { return { name: markTxt[i], value: [t, -9.99] }; });

var series = [
  xScatter(xTop, yTop, toPairs(seg1Start, p3Seg1)),
  xScatter(xTop, yTop, toPairs(seg1bStart, p3Seg1b)),
  xScatter(xTop, yTop, toPairs(seg2Start, p3Seg2)),
  xScatter(xTop, yTop, toPairs(seg2bStart, p3Seg2b)),
  blueLine(pppSeg1),
  blueLine(pppSeg2),
  xScatter(xRes, yRes, toPairs(seg1Start, resSeg1)),
  xScatter(xRes, yRes, toPairs(seg1bStart, resSeg1b)),
  xScatter(xRes, yRes, toPairs(seg2Start, resSeg2)),
  xScatter(xRes, yRes, toPairs(seg2bStart, resSeg2b)),
  { type: 'scatter', xAxisIndex: xAdev, yAxisIndex: yAdev, data: adevData, symbol: 'circle', symbolSize: 11,
    itemStyle: { color: '#000' }, label: redLabel(19, 0), clip: true, silent: true },
  { type: 'scatter', xAxisIndex: xAdev, yAxisIndex: yAdev, data: adevMarks, symbol: 'circle', symbolSize: 7,
    itemStyle: { color: '#000' }, label: redLabel(19, 0), clip: true, silent: true },
  { type: 'scatter', xAxisIndex: xTdev, yAxisIndex: yTdev, data: tdevData, symbol: 'circle', symbolSize: 11,
    itemStyle: { color: '#000' }, label: redLabel(17, 21), clip: false, silent: true },
  { type: 'scatter', xAxisIndex: xTdev, yAxisIndex: yTdev, data: tdevMarks, symbol: 'circle', symbolSize: 11,
    itemStyle: { color: '#000' }, label: redLabel(18, 18), clip: false, silent: true }
];

var subRich = { sub: { fontSize: 19, fontWeight: 'bold', fontFamily: FONT, fill: '#000', verticalAlign: 'bottom', padding: [24, 0, 0, 0] } };

var chart = echarts.init(document.getElementById('main'));
chart.setOption({
  animation: false,
  backgroundColor: '#fff',
  grid: [
    { left: 162, top: 125, width: 1263.5, height: 720, containLabel: false, outerBoundsMode: 'none' },
    { left: 162, top: 953, width: 1263.5, height: 450, containLabel: false, outerBoundsMode: 'none' },
    { left: 169, top: 1512, width: 541, height: 449, containLabel: false, outerBoundsMode: 'none' },
    { left: 853, top: 1512, width: 540, height: 449, containLabel: false, outerBoundsMode: 'none' }
  ],
  xAxis: xAxes,
  yAxis: yAxes,
  series: series,
  graphic: [
    { type: 'text', x: 201, y: 799, silent: true,
      style: { text: '_2607_UM11PT13_UM11PT13.P3AA5', fontSize: 30, fontWeight: 'bold', fontFamily: FONT,
        fill: '#000', verticalAlign: 'middle' } },
    { type: 'text', x: 768, y: 799, silent: true,
      style: { text: 'GPS P3 (x{sub|black}) ,  GPSPPP (o{sub|blue})  2751Ep', fontSize: 30, fontWeight: 'bold',
        fontFamily: FONT, fill: '#000', verticalAlign: 'middle', rich: subRich } },
    { type: 'text', x: 203, y: 1372, silent: true,
      style: { text: 'Max Smoothing Residual:_-3.011__1.797_-0.166  Sigma= 0.620ns', fontSize: 25,
        fontWeight: 'bold', fontFamily: FONT, fill: '#000', verticalAlign: 'middle' } },
    { type: 'text', x: 213, y: 1533, silent: true,
      style: { text: '\u03c4 = 1067s', fontSize: 17, fontWeight: 'bold', fontFamily: FONT, fill: '#000',
        verticalAlign: 'middle' } }
  ]
});
</script>
</body>
</html>
